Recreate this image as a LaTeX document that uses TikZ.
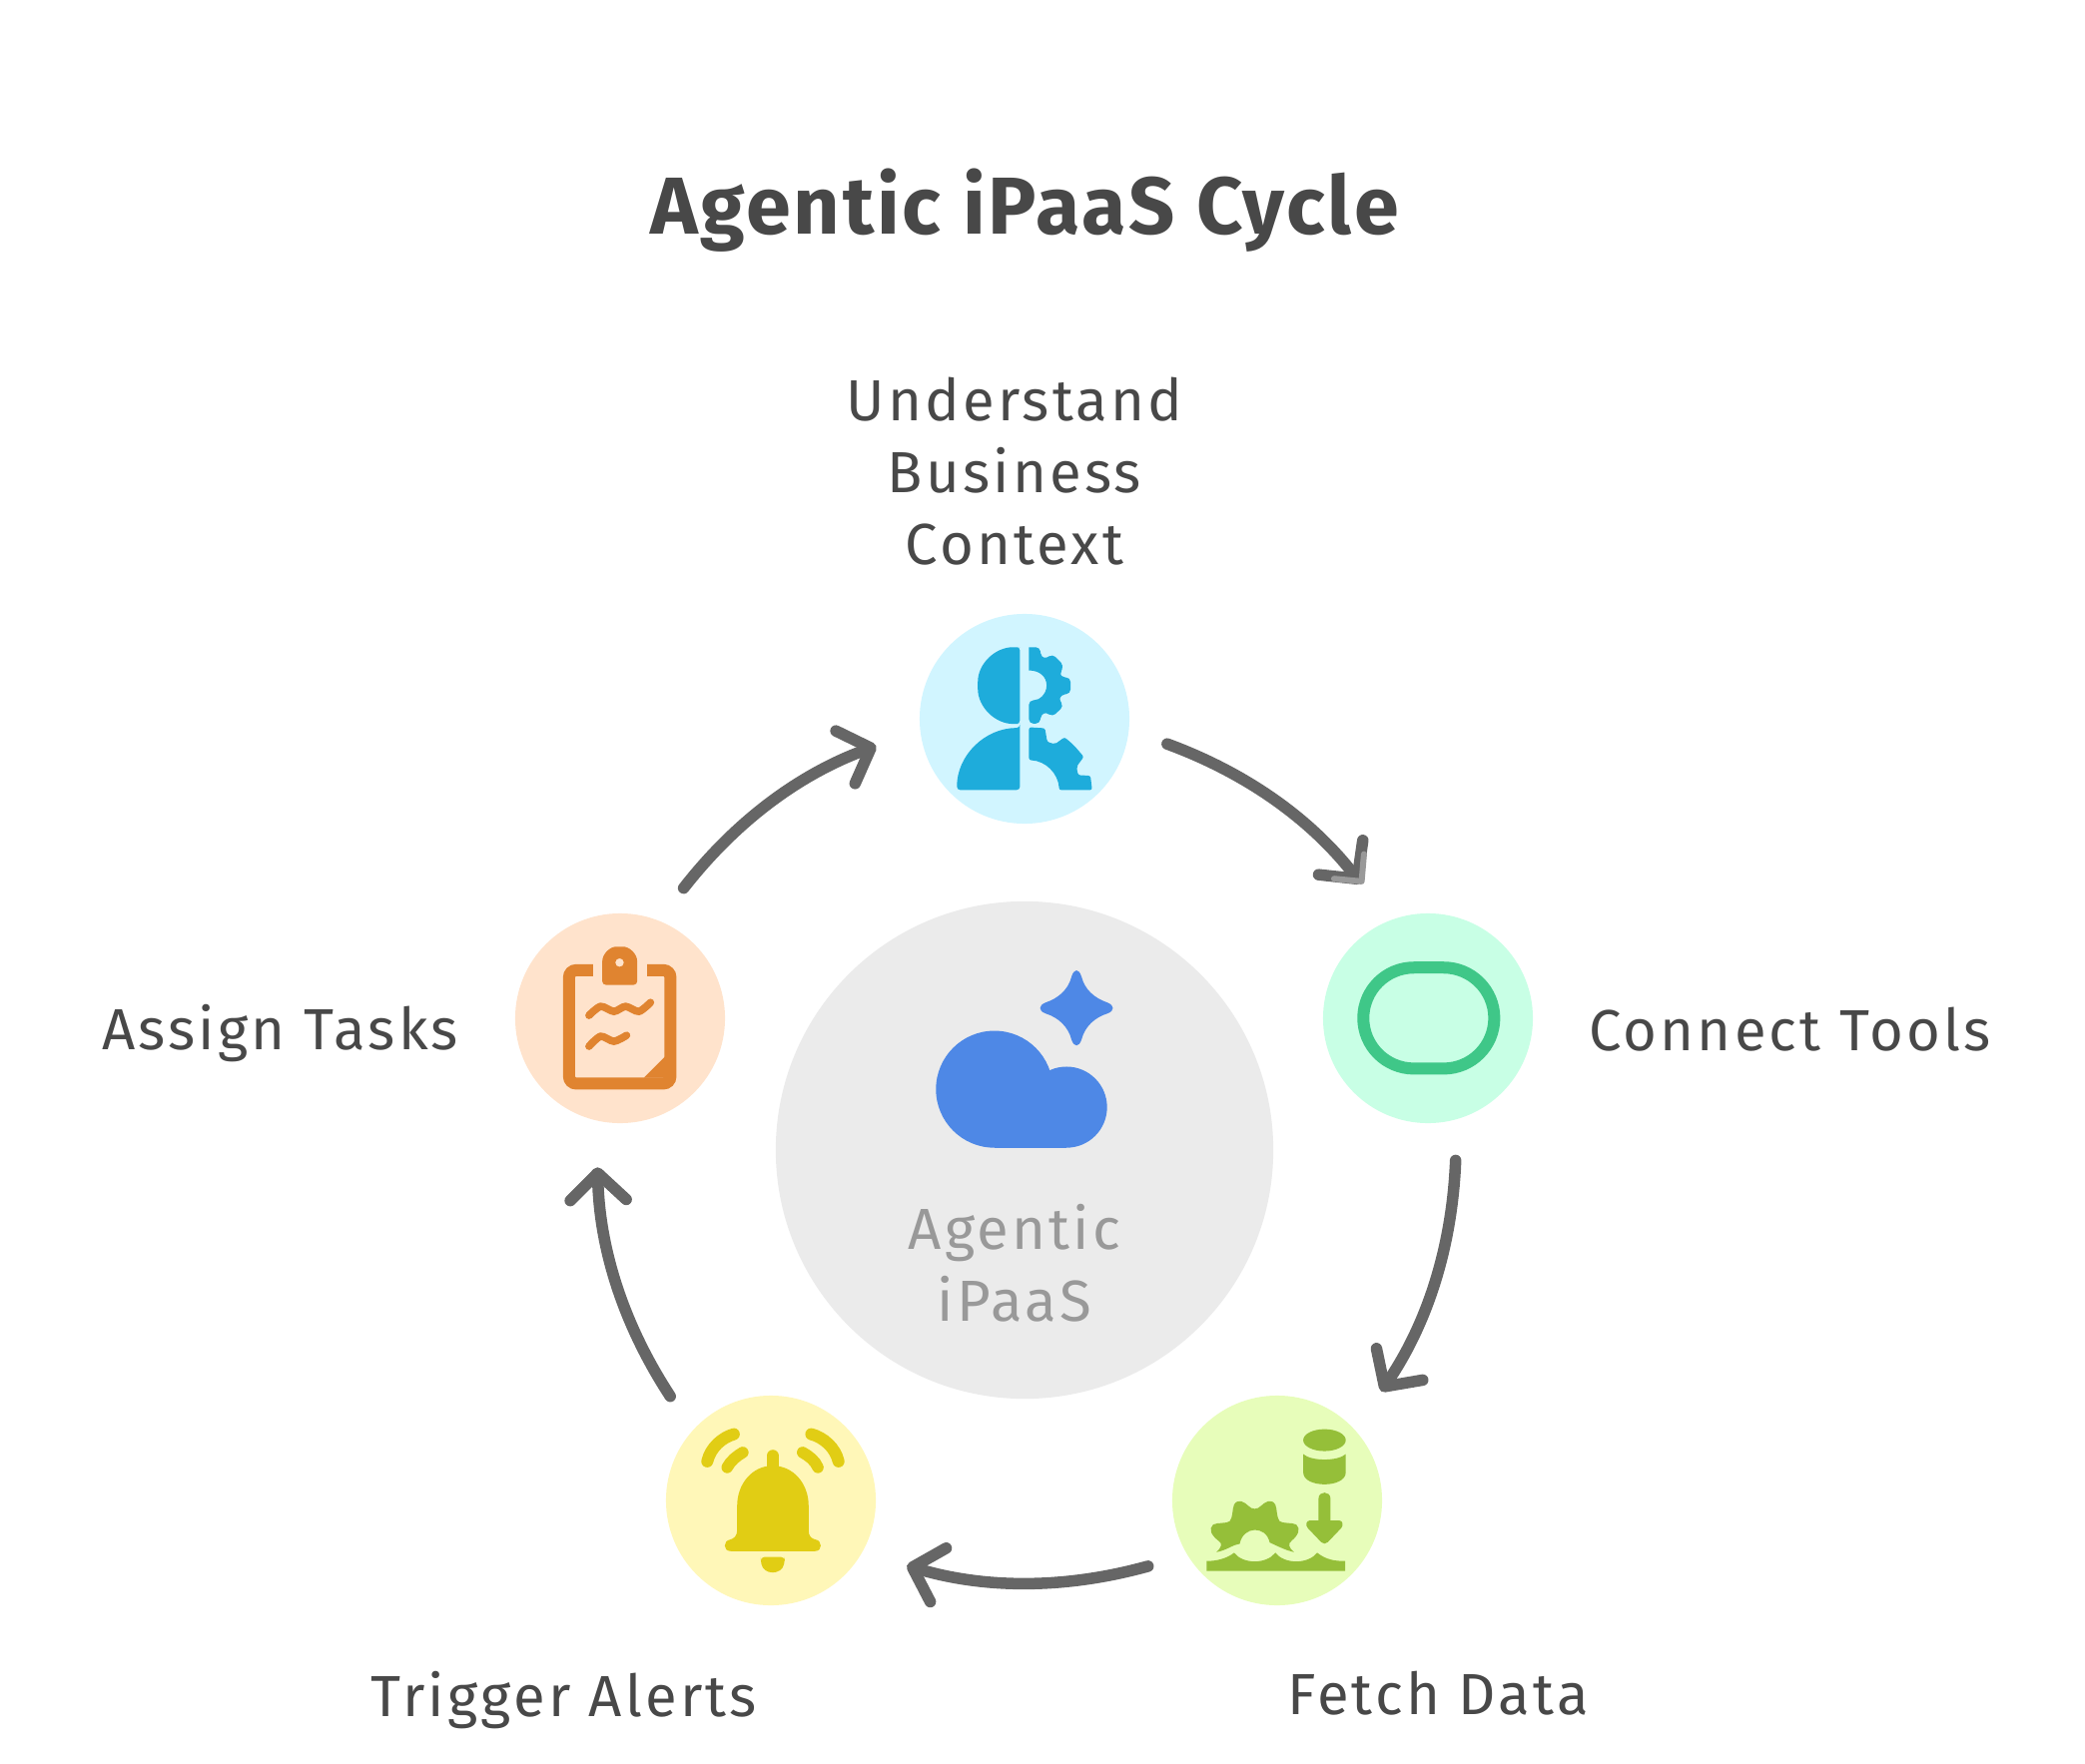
\documentclass[tikz,border=0pt]{standalone}
\usepackage{fontspec}
\setmainfont{Fira Sans}
\usetikzlibrary{arrows.meta, positioning}
\definecolor{inkgray}{HTML}{484848}
\definecolor{linegray}{HTML}{666666}
\definecolor{hubgray}{HTML}{EBEBEB}
\definecolor{cloudblue}{HTML}{4E88E6}
\definecolor{skyfill}{HTML}{D1F5FF}
\definecolor{skyicon}{HTML}{1EACDB}
\definecolor{mintfill}{HTML}{C8FFE5}
\definecolor{minticon}{HTML}{3FC788}
\definecolor{limefill}{HTML}{E7FDBA}
\definecolor{limeicon}{HTML}{95BF39}
\definecolor{yellowfill}{HTML}{FFF7B8}
\definecolor{yellowicon}{HTML}{E1CD14}
\definecolor{peachfill}{HTML}{FFE3CC}
\definecolor{peachicon}{HTML}{E08430}
\tikzstyle{stage}    = [circle, minimum size=2.1cm, inner sep=0pt, outer sep=0.4cm]
\tikzstyle{caption}  = [inner sep=0pt, outer sep=0pt, align=center, text=inkgray,
                        font=\fontsize{16.5}{20.5}\selectfont\addfontfeature{LetterSpace=5.5}]
\tikzstyle{arrow}    = [line width=0.115cm, line cap=round, draw=linegray,
                        -{Straight Barb[length=0.27cm, width=0.56cm, round]}]
\tikzstyle{zoomgrid} = [x=0.003333cm, y=-0.003333cm]
\begin{document}
\begin{tikzpicture}[x=0.01cm, y=-0.01cm]
  \useasboundingbox (0,0) rectangle (2088,1767);

  % Centre
  \node[circle, minimum size=4.98cm, inner sep=0pt, fill=hubgray] (hub) at (1026,1152) {};
  \node[caption, text=black!40] (hublabel) at ([xshift=-0.1cm, yshift=-1.13cm]hub.center)
        {Agentic\\iPaaS};

  % Five stages
  \node[stage, fill=skyfill] (understand) at (1026,720) {};
  \node[stage, fill=mintfill] (connect) at (1430,1020) {};
  \node[stage, fill=limefill] (fetch) at (1279,1503) {};
  \node[stage, fill=yellowfill] (trigger) at (772,1503) {};
  \node[stage, fill=peachfill] (assign) at (621,1020) {};

  % Labels
  \node[caption, above=0.09cm of understand, xshift=-0.1cm] (understandlabel)
        {Understand\\Business\\Context};
  \node[caption, right=0.16cm of connect, yshift=-0.11cm] (connectlabel) {Connect Tools};
  \node[caption, below=0.26cm of fetch, xshift=1.61cm] (fetchlabel) {Fetch Data};
  \node[caption, below=0.26cm of trigger, xshift=-2.07cm] (triggerlabel) {Trigger Alerts};
  \node[caption, left=0.17cm of assign, yshift=-0.15cm] (assignlabel) {Assign Tasks};

  % Title
  \node[caption, above=1.25cm of understandlabel, xshift=0.1cm,
        font=\fontsize{23}{27}\bfseries\selectfont\addfontfeature{LetterSpace=3.4}]
        (title) {Agentic iPaaS Cycle};

  % Cycle
  \draw[arrow, shorten >=0.06cm] (understand.-10) to[bend left=16, looseness=0.9] (connect.116);
  \draw[arrow, shorten >=0.06cm] (connect.-79) to[bend left=16, looseness=0.9] (fetch.46);
  \draw[arrow, shorten >=0.06cm] (fetch.207) to[bend left=16, looseness=0.9] (trigger.-26);
  \draw[arrow, shorten >=0.06cm] (trigger.134) to[bend left=16, looseness=0.9] (assign.261);
  \draw[arrow, shorten >=0.06cm] (assign.64) to[bend left=16, looseness=0.9] (understand.190);
  \begin{scope}[shift={(900,600)}, zoomgrid]
    \draw[line width=0.06cm, line cap=round, line join=round, draw=black!40]
      (1310,842) -- (1393,850) -- (1400,768);
  \end{scope}

  % Icon: person and gear
  \begin{scope}[shift={(900,600)}, zoomgrid, fill=skyicon]
    \fill[rounded corners=1pt] (365,145) -- (365,375) -- (355,376)
      .. controls (290,376) and (238,325) .. (238,260)
      .. controls (238,195) and (290,145) .. (355,145) -- cycle;
    \fill[rounded corners=1pt] (365,388) -- (365,575) -- (175,575)
      .. controls (175,470) and (260,388) .. (365,388) -- cycle;
    \fill[rounded corners=1.2pt] (392,145) -- (425,145) -- (428,175) -- (445,180) -- (462,165)
      -- (497,200) -- (485,225) -- (488,235) -- (517,237) -- (517,285) -- (488,288) -- (482,305)
      -- (497,322) -- (462,355) -- (445,340) -- (428,347) -- (425,375) -- (392,375) -- (392,305)
      [sharp corners] .. controls (425,305) and (445,285) .. (445,260)
      .. controls (445,235) and (425,215) .. (392,215) -- cycle;
    \fill[rounded corners=0.6pt] (392,386) -- (440,389) -- (447,430) -- (470,437) -- (499,416)
      -- (527,440) -- (557,475) -- (535,505) -- (540,530) -- (577,532) -- (582,575) -- (483,575)
      .. controls (480,525) and (442,487) .. (392,485) -- cycle;
  \end{scope}

  % Icon: rounded outline
  \begin{scope}[shift={(1320,910)}, zoomgrid]
    \draw[line width=0.12cm, draw=minticon, rounded corners=14.4pt]
      (136,178) rectangle (530,482);
  \end{scope}

  % Icon: database, arrow, gear, waves
  \begin{scope}[shift={(1160,1390)}, zoomgrid, fill=limeicon]
    \fill (500,158) ellipse [x radius=64, y radius=33];
    \fill (436,200) .. controls (460,222) and (540,222) .. (564,200) -- (564,255)
      .. controls (564,303) and (436,303) .. (436,255) -- cycle;
    \fill (482,334) .. controls (482,310) and (518,310) .. (518,334) -- (518,400) -- (545,400)
      .. controls (555,400) and (558,415) .. (550,423) -- (510,465)
      .. controls (505,471) and (495,471) .. (490,465) -- (450,423)
      .. controls (442,415) and (445,400) .. (455,400) -- (482,400) -- cycle;
    \fill (145,552) -- (145,522) .. controls (175,522) and (205,515) .. (228,497)
      .. controls (255,532) and (325,532) .. (352,497)
      .. controls (380,532) and (450,532) .. (478,497)
      .. controls (505,518) and (530,522) .. (562,522) -- (562,552) -- cycle;
    \fill (175,495) .. controls (190,480) and (195,470) .. (180,460)
      .. controls (160,445) and (150,425) .. (165,412)
      .. controls (180,405) and (205,410) .. (215,402)
      .. controls (225,390) and (222,365) .. (228,352)
      .. controls (240,332) and (260,345) .. (270,355)
      .. controls (282,368) and (298,368) .. (310,355)
      .. controls (320,345) and (340,332) .. (352,352)
      .. controls (358,365) and (355,390) .. (365,402)
      .. controls (375,410) and (400,405) .. (415,412)
      .. controls (430,425) and (420,445) .. (402,460)
      .. controls (388,470) and (393,482) .. (408,495)
      .. controls (385,490) and (365,480) .. (335,466)
      .. controls (325,415) and (255,415) .. (245,470)
      .. controls (225,472) and (205,490) .. (175,495) -- cycle;
  \end{scope}

  % Icon: bell
  \begin{scope}[shift={(660,1390)}, zoomgrid, fill=yellowicon]
    \draw[yellowicon, line width=0.12cm, line cap=round] (342,205) -- (342,245);
    \fill (235,355) .. controls (235,290) and (280,235) .. (342,235)
      .. controls (405,235) and (450,290) .. (450,355) -- (450,430)
      .. controls (450,445) and (458,455) .. (470,457)
      .. controls (492,460) and (492,492) .. (470,492) -- (215,492)
      .. controls (192,492) and (192,460) .. (215,457)
      .. controls (225,455) and (235,445) .. (235,430) -- cycle;
    \fill[rounded corners=1pt] (306,510) -- (378,510) -- (378,520)
      .. controls (370,565) and (314,565) .. (306,520) -- cycle;
    \draw[yellowicon, line width=0.12cm, line cap=round]
      (145,222) .. controls (155,180) and (190,150) .. (225,140);
    \draw[yellowicon, line width=0.115cm, line cap=round]
      (205,240) .. controls (215,220) and (235,205) .. (252,195);
    \draw[yellowicon, line width=0.12cm, line cap=round]
      (458,140) .. controls (495,150) and (530,180) .. (540,222);
    \draw[yellowicon, line width=0.115cm, line cap=round]
      (432,195) .. controls (450,205) and (470,220) .. (478,240);
  \end{scope}

  % Icon: clipboard
  \begin{scope}[shift={(500,900)}, zoomgrid, fill=peachicon]
    \draw[peachicon, line width=0.12cm, rounded corners=2pt]
      (282,216) -- (210,216) -- (210,557) -- (515,557) -- (515,216) -- (445,216);
    \fill[even odd rule, rounded corners=1pt] (310,260) -- (310,200)
      .. controls (310,165) and (335,145) .. (362,145)
      .. controls (390,145) and (415,165) .. (415,200) -- (415,260) -- cycle
      (362,193) circle [radius=13];
    \fill (500,475) -- (435,540) -- (500,540) -- cycle;
    \draw[peachicon, line width=0.075cm, line cap=round] plot[smooth] coordinates
      {(270,352) (305,325) (345,340) (380,325) (420,340) (455,313)};
    \draw[peachicon, line width=0.075cm, line cap=round] plot[smooth] coordinates
      {(270,445) (305,415) (345,430) (383,412)};
  \end{scope}

  % Icon: cloud and spark
  \begin{scope}[shift={(900,950)}, zoomgrid, fill=cloudblue]
    \fill (288,424) circle [radius=176];
    \fill (505,478) circle [radius=122];
    \fill (288,424) rectangle (505,600);
    \fill (520,85) .. controls (528,60) and (542,60) .. (550,85)
      .. controls (560,125) and (590,150) .. (628,163)
      .. controls (650,172) and (650,188) .. (628,196)
      .. controls (590,208) and (560,235) .. (550,275)
      .. controls (542,298) and (528,298) .. (520,275)
      .. controls (510,235) and (480,208) .. (442,196)
      .. controls (420,188) and (420,172) .. (442,163)
      .. controls (480,150) and (510,125) .. (520,85) -- cycle;
  \end{scope}

\end{tikzpicture}
\end{document}
